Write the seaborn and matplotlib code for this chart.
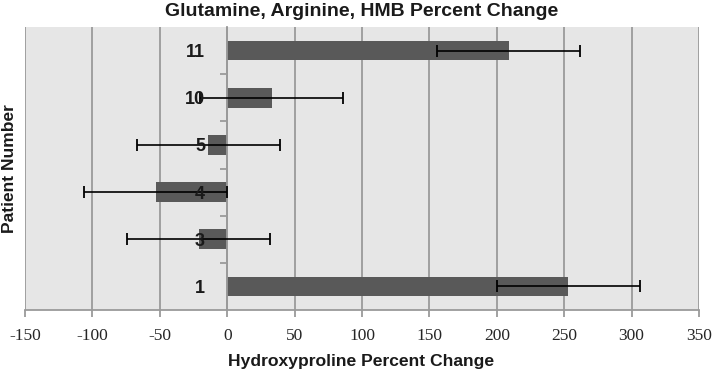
import numpy as np
import pandas as pd
import matplotlib
matplotlib.use("Agg")
import matplotlib.pyplot as plt
import seaborn as sns
from matplotlib.ticker import FixedLocator

patients = ["11", "10", "5", "4", "3", "1"]
pct_change = [209, 33, -14, -53, -21, 253]
err = [53, 53, 53, 53, 53, 53]
x_ticks = [-150, -100, -50, 0, 50, 100, 150, 200, 250, 300, 350]

sns.set_theme(style="white")
plt.rcParams['font.family'] = ['Liberation Sans Narrow', 'Liberation Sans', 'DejaVu Sans']

df = pd.DataFrame({"Patient": patients, "Change": pct_change})

fig = plt.figure(figsize=(7.14, 3.73), dpi=100)
ax = fig.add_axes([25/714, 1-310/373, (699-25)/714, (310-27)/373])
ax.set_facecolor("#e6e6e6")

sns.barplot(data=df, x="Change", y="Patient", order=patients, orient="h",
            color="#595959", saturation=1, width=0.42, errorbar=None, ax=ax,
            zorder=2)
for p in ax.patches:
    p.set_edgecolor("none")

ypos = np.arange(len(patients))
ax.errorbar(pct_change, ypos, xerr=err, fmt="none", ecolor="black",
            elinewidth=1.2, capsize=4, capthick=1.3, zorder=3)

ax.set_xlim(-150, 350)
ax.set_ylim(len(patients) - 0.5, -0.5)
ax.set_xticks(x_ticks)
ax.set_xticklabels([str(t) for t in x_ticks], family=['Liberation Serif', 'DejaVu Serif'], fontsize=12.5)

ax.xaxis.grid(True, color="#9a9a9a", linewidth=1.3)
ax.yaxis.grid(False)
ax.xaxis.set_zorder(0.5)
ax.yaxis.set_zorder(5)

for s in ["top", "right"]:
    ax.spines[s].set_visible(False)
ax.spines["left"].set_position(("data", 0))
ax.spines["left"].set_color("#9a9a9a")
ax.spines["left"].set_linewidth(1.3)
ax.spines["bottom"].set_color("#9a9a9a")
ax.spines["bottom"].set_linewidth(1.3)

ax.tick_params(axis="x", which="major", direction="out", length=5, width=1.3,
               color="#9a9a9a", pad=8, bottom=True)
ax.tick_params(axis="y", which="major", length=0, pad=16, labelsize=13)
for lab in ax.get_yticklabels():
    lab.set_fontweight("bold")
    lab.set_color("#1a1a1a")
ax.yaxis.set_minor_locator(FixedLocator(np.arange(0.5, len(patients) - 0.5, 1)))
ax.tick_params(axis="y", which="minor", direction="out", length=5, width=1.3,
               color="#9a9a9a", left=True)

ax.set_xlabel("Hydroxyproline Percent Change", fontsize=12.6, fontweight="bold",
              labelpad=5, color="#1a1a1a")
ax.xaxis.set_label_coords((361-25)/(699-25), -(354-310)/(310-27))
ax.set_ylabel("")
fig.text(10/714, 1-169/373, "Patient Number", rotation=90, fontsize=12.5,
         fontweight="bold", ha="center", va="center", color="#1a1a1a")
fig.text(362/714, 1-11/373, "Glutamine, Arginine, HMB Percent Change",
         fontsize=14, fontweight="bold", ha="center", va="center", color="#1a1a1a")

fig.savefig("out.png", dpi=100)
